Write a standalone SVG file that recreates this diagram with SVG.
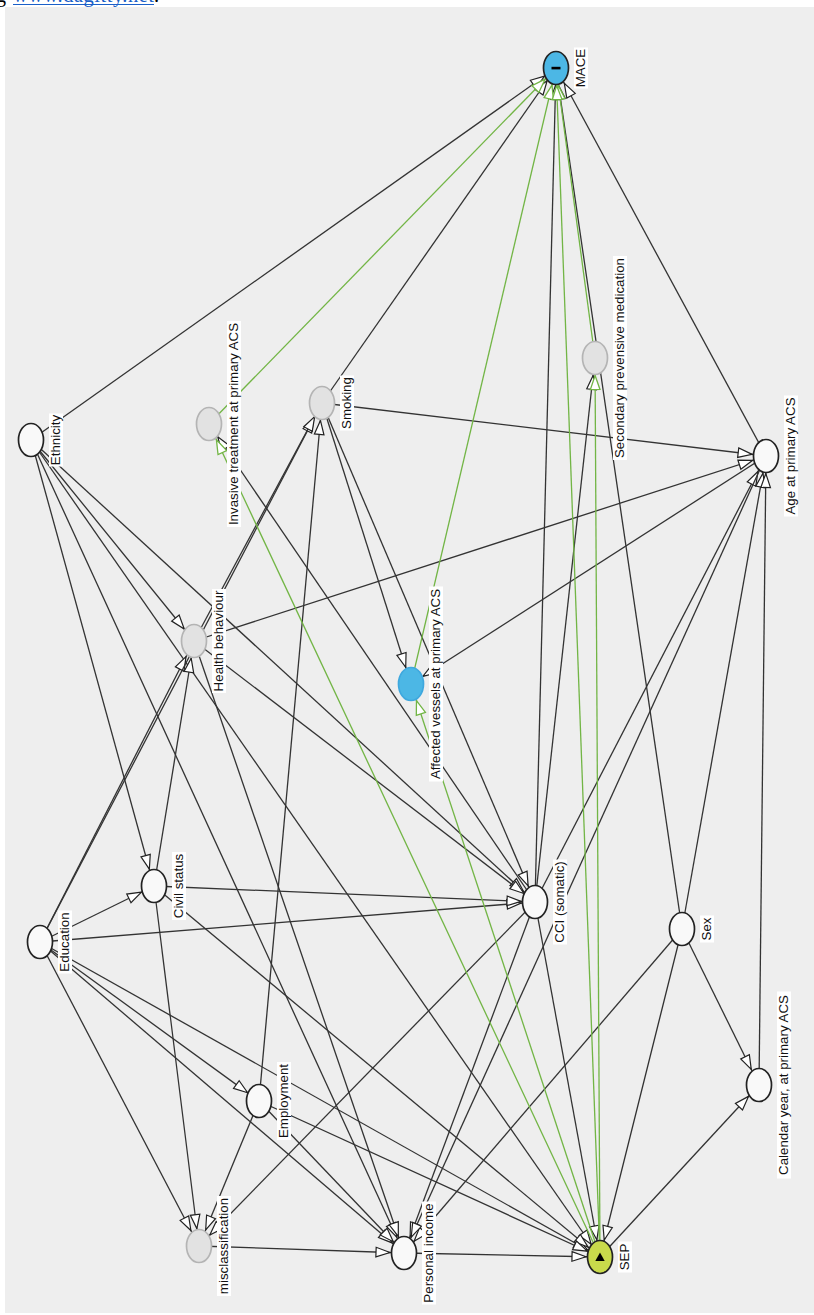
<svg xmlns="http://www.w3.org/2000/svg" width="814" height="1315" viewBox="0 0 814 1315">
<style>
.e{stroke:#333;stroke-width:1.3;fill:none}
.c{stroke:#72b545;stroke-width:1.3;fill:none}
.nw{fill:#f9f9f9;stroke:#222;stroke-width:1.7}
.ng{fill:#e2e2e2;stroke:#b4b4b4;stroke-width:1.7}
.lb{fill:#fff}
.t{font-family:"Liberation Sans",Arial,sans-serif;font-size:13.33px;fill:#111;text-anchor:middle}
.H{marker-end:url(#aH)}.D{marker-end:url(#aD)}.V{marker-end:url(#aV)}
.gD{marker-end:url(#gD)}.gV{marker-end:url(#gV)}
</style>
<defs>
<marker id="aH" markerUnits="userSpaceOnUse" markerWidth="1" markerHeight="1" refX="14" refY="0" orient="auto" style="overflow:visible"><path d="M0,0L-14,-4.8L-14,4.8Z" fill="#fff" stroke="#222" stroke-width="1.2"/></marker>
<marker id="aD" markerUnits="userSpaceOnUse" markerWidth="1" markerHeight="1" refX="15.5" refY="0" orient="auto" style="overflow:visible"><path d="M0,0L-14,-4.8L-14,4.8Z" fill="#fff" stroke="#222" stroke-width="1.2"/></marker>
<marker id="aV" markerUnits="userSpaceOnUse" markerWidth="1" markerHeight="1" refX="17.5" refY="0" orient="auto" style="overflow:visible"><path d="M0,0L-14,-4.8L-14,4.8Z" fill="#fff" stroke="#222" stroke-width="1.2"/></marker>
<marker id="gD" markerUnits="userSpaceOnUse" markerWidth="1" markerHeight="1" refX="15.5" refY="0" orient="auto" style="overflow:visible"><path d="M0,0L-14,-4.8L-14,4.8Z" fill="#fff" stroke="#72b545" stroke-width="1.3"/></marker>
<marker id="gV" markerUnits="userSpaceOnUse" markerWidth="1" markerHeight="1" refX="17.5" refY="0" orient="auto" style="overflow:visible"><path d="M0,0L-14,-4.8L-14,4.8Z" fill="#fff" stroke="#72b545" stroke-width="1.3"/></marker>
</defs>
<rect x="0" y="0" width="814" height="1315" fill="#fff"/>
<text x="-4" y="2" font-family="Liberation Serif,serif" font-size="20" fill="#000">g</text>
<text x="13" y="2" font-family="Liberation Serif,serif" font-size="20.5" fill="#1a5fc8" textLength="141">www.dagitty.net</text>
<line x1="13" y1="4.5" x2="154" y2="4.5" stroke="#1a5fc8" stroke-width="1.2"/>
<text x="154" y="2" font-family="Liberation Serif,serif" font-size="20.5" fill="#000">.</text>
<rect x="5" y="7" width="809" height="1306" fill="#eeeeee"/>
<g id="edges">
<line id="ETH-MACE" class="e H" x1="31" y1="440" x2="556" y2="68"/>
<line id="ETH-HB" class="e D" x1="31" y1="440" x2="194" y2="641"/>
<line id="ETH-CIV" class="e V" x1="31" y1="440" x2="154" y2="886"/>
<line id="ETH-CCI" class="e D" x1="31" y1="440" x2="535" y2="902"/>
<line id="ETH-PI" class="e V" x1="31" y1="440" x2="404" y2="1253"/>
<line id="ETH-SEP" class="e D" x1="31" y1="440" x2="600" y2="1257"/>
<line id="EDU-CIV" class="e H" x1="40" y1="942" x2="154" y2="886"/>
<line id="EDU-CCI" class="e H" x1="40" y1="942" x2="535" y2="902"/>
<line id="EDU-HB" class="e V" x1="40" y1="942" x2="194" y2="641"/>
<line id="EDU-SMK" class="e V" x1="40" y1="942" x2="322" y2="403"/>
<line id="EDU-EMP" class="e H" x1="40" y1="942" x2="259" y2="1101"/>
<line id="EDU-MIS" class="e V" x1="40" y1="942" x2="199" y2="1246"/>
<line id="EDU-PI" class="e D" x1="40" y1="942" x2="404" y2="1253"/>
<line id="EDU-SEP" class="e H" x1="40" y1="942" x2="600" y2="1257"/>
<line id="CIV-HB" class="e V" x1="154" y1="886" x2="194" y2="641"/>
<line id="CIV-CCI" class="e H" x1="154" y1="886" x2="535" y2="902"/>
<line id="CIV-MIS" class="e V" x1="154" y1="886" x2="199" y2="1246"/>
<line id="CIV-SEP" class="e D" x1="154" y1="886" x2="600" y2="1257"/>
<line id="EMP-SMK" class="e V" x1="259" y1="1101" x2="322" y2="403"/>
<line id="EMP-PI" class="e D" x1="259" y1="1101" x2="404" y2="1253"/>
<line id="EMP-SEP" class="e H" x1="259" y1="1101" x2="600" y2="1257"/>
<line id="EMP-MIS" class="e V" x1="259" y1="1101" x2="199" y2="1246"/>
<line id="HB-SMK" class="e D" x1="194" y1="641" x2="322" y2="403"/>
<line id="HB-CCI" class="e H" x1="194" y1="641" x2="535" y2="902"/>
<line id="HB-AGE" class="e H" x1="194" y1="641" x2="766" y2="456"/>
<line id="HB-PI" class="e V" x1="194" y1="641" x2="404" y2="1253"/>
<line id="SMK-MACE" class="e D" x1="322" y1="403" x2="556" y2="68"/>
<line id="SMK-AFF" class="e V" x1="322" y1="403" x2="411" y2="684"/>
<line id="SMK-CCI" class="e V" x1="322" y1="403" x2="535" y2="902"/>
<line id="SMK-AGE" class="e H" x1="322" y1="403" x2="766" y2="456"/>
<line id="CCI-MACE" class="e V" x1="535" y1="902" x2="556" y2="68"/>
<line id="CCI-SEC" class="e V" x1="535" y1="902" x2="595" y2="358"/>
<line id="CCI-INV" class="e D" x1="535" y1="902" x2="209" y2="424"/>
<line id="CCI-MIS" class="e D" x1="535" y1="902" x2="199" y2="1246"/>
<line id="CCI-PI" class="e V" x1="535" y1="902" x2="404" y2="1253"/>
<line id="CCI-SEP" class="e V" x1="535" y1="902" x2="600" y2="1257"/>
<line id="CCI-AGE" class="e V" x1="535" y1="902" x2="766" y2="456"/>
<line id="SEX-MACE" class="e V" x1="682" y1="929" x2="556" y2="68"/>
<line id="SEX-AGE" class="e V" x1="682" y1="929" x2="766" y2="456"/>
<line id="SEX-CAL" class="e V" x1="682" y1="929" x2="759" y2="1085"/>
<line id="SEX-SEP" class="e V" x1="682" y1="929" x2="600" y2="1257"/>
<line id="SEX-PI" class="e D" x1="682" y1="929" x2="404" y2="1253"/>
<line id="CAL-AGE" class="e V" x1="759" y1="1085" x2="766" y2="456"/>
<line id="SEP-CAL" class="e D" x1="600" y1="1257" x2="759" y2="1085"/>
<line id="AGE-MACE" class="e V" x1="766" y1="456" x2="556" y2="68"/>
<line id="AGE-AFF" class="e H" x1="766" y1="456" x2="411" y2="684"/>
<line id="AGE-PI" class="e V" x1="766" y1="456" x2="404" y2="1253"/>
<line id="MIS-PI" class="e H" x1="199" y1="1246" x2="404" y2="1253"/>
<line id="PI-SEP" class="e H" x1="404" y1="1253" x2="600" y2="1257"/>
<line id="INV-MACE" class="c gD" x1="209" y1="424" x2="556" y2="68"/>
<line id="AFF-MACE" class="c gV" x1="411" y1="684" x2="556" y2="68"/>
<line id="SEC-MACE" class="c gV" x1="595" y1="358" x2="556" y2="68"/>
<line id="SEP-MACE" class="c gV" x1="600" y1="1257" x2="556" y2="68"/>
<line id="SEP-INV" class="c gV" x1="600" y1="1257" x2="209" y2="424"/>
<line id="SEP-AFF" class="c gV" x1="600" y1="1257" x2="411" y2="684"/>
<line id="SEP-SEC" class="c gV" x1="600" y1="1257" x2="595" y2="358"/>
</g>
<g id="n-MACE"><ellipse cx="556" cy="68" rx="12.5" ry="16.5" fill="#4cb7e5" stroke="#222" stroke-width="1.7"/><rect x="551.5" y="66.8" width="9" height="2.6" fill="#000"/><g transform="translate(585,68) rotate(-90)"><rect class="lb" x="-20.5" y="-11" width="41" height="14"/><text class="t">MACE</text></g></g>
<g id="n-INV"><ellipse class="ng" cx="209" cy="424" rx="12.5" ry="16.5"/><g transform="translate(238,424) rotate(-90)"><rect class="lb" x="-103" y="-11" width="206" height="14"/><text class="t">Invasive treatment at primary ACS</text></g></g>
<g id="n-SMK"><ellipse class="ng" cx="322" cy="403" rx="12.5" ry="16.5"/><g transform="translate(351,403) rotate(-90)"><rect class="lb" x="-27.5" y="-11" width="55" height="14"/><text class="t">Smoking</text></g></g>
<g id="n-SEC"><ellipse class="ng" cx="595" cy="358" rx="12.5" ry="16.5"/><g transform="translate(624,358) rotate(-90)"><rect class="lb" x="-102" y="-11" width="204" height="14"/><text class="t">Secondary prevensive medication</text></g></g>
<g id="n-ETH"><ellipse class="nw" cx="31" cy="440" rx="12.5" ry="16.5"/><g transform="translate(60,440) rotate(-90)"><rect class="lb" x="-26.5" y="-11" width="53" height="14"/><text class="t">Ethnicity</text></g></g>
<g id="n-AGE"><ellipse class="nw" cx="766" cy="456" rx="12.5" ry="16.5"/><g transform="translate(795,456) rotate(-90)"><rect class="lb" x="-60.5" y="-11" width="121" height="14"/><text class="t">Age at primary ACS</text></g></g>
<g id="n-HB"><ellipse class="ng" cx="194" cy="641" rx="12.5" ry="16.5"/><g transform="translate(223,641) rotate(-90)"><rect class="lb" x="-52" y="-11" width="104" height="14"/><text class="t">Health behaviour</text></g></g>
<g id="n-AFF"><ellipse cx="411" cy="684" rx="12.5" ry="16.5" fill="#4cb7e5" stroke="#3fa8de" stroke-width="1.7"/><g transform="translate(440,684) rotate(-90)"><rect class="lb" x="-97.5" y="-11" width="195" height="14"/><text class="t">Affected vessels at primary ACS</text></g></g>
<g id="n-CIV"><ellipse class="nw" cx="154" cy="886" rx="12.5" ry="16.5"/><g transform="translate(183,886) rotate(-90)"><rect class="lb" x="-34" y="-11" width="68" height="14"/><text class="t">Civil status</text></g></g>
<g id="n-CCI"><ellipse class="nw" cx="535" cy="902" rx="12.5" ry="16.5"/><g transform="translate(564,902) rotate(-90)"><rect class="lb" x="-42.5" y="-11" width="85" height="14"/><text class="t">CCI (somatic)</text></g></g>
<g id="n-EDU"><ellipse class="nw" cx="40" cy="942" rx="12.5" ry="16.5"/><g transform="translate(69,942) rotate(-90)"><rect class="lb" x="-31.5" y="-11" width="63" height="14"/><text class="t">Education</text></g></g>
<g id="n-SEX"><ellipse class="nw" cx="682" cy="929" rx="12.5" ry="16.5"/><g transform="translate(711,929) rotate(-90)"><rect class="lb" x="-13.5" y="-11" width="27" height="14"/><text class="t">Sex</text></g></g>
<g id="n-EMP"><ellipse class="nw" cx="259" cy="1101" rx="12.5" ry="16.5"/><g transform="translate(288,1101) rotate(-90)"><rect class="lb" x="-39" y="-11" width="78" height="14"/><text class="t">Employment</text></g></g>
<g id="n-CAL"><ellipse class="nw" cx="759" cy="1085" rx="12.5" ry="16.5"/><g transform="translate(788,1085) rotate(-90)"><rect class="lb" x="-93.5" y="-11" width="187" height="14"/><text class="t">Calendar year, at primary ACS</text></g></g>
<g id="n-MIS"><ellipse class="ng" cx="199" cy="1246" rx="12.5" ry="16.5"/><g transform="translate(228,1246) rotate(-90)"><rect class="lb" x="-50" y="-11" width="100" height="14"/><text class="t">misclassification</text></g></g>
<g id="n-PI"><ellipse class="nw" cx="404" cy="1253" rx="12.5" ry="16.5"/><g transform="translate(433,1253) rotate(-90)"><rect class="lb" x="-51.5" y="-11" width="103" height="14"/><text class="t">Personal income</text></g></g>
<g id="n-SEP"><ellipse cx="600" cy="1257" rx="12.5" ry="16.5" fill="#c9da4b" stroke="#222" stroke-width="1.7"/><path d="M600,1252.5L595.3,1261L604.7,1261Z" fill="#000"/><g transform="translate(629,1257) rotate(-90)"><rect class="lb" x="-15.5" y="-11" width="31" height="14"/><text class="t">SEP</text></g></g>
</svg>
